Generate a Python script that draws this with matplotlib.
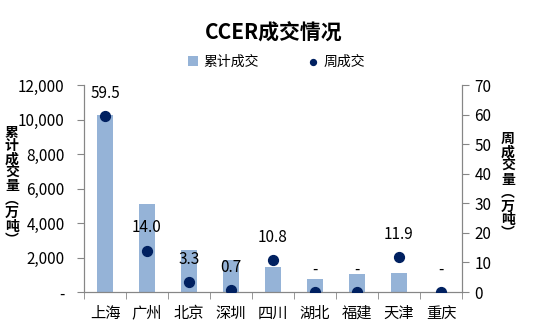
import matplotlib.pyplot as plt
import numpy as np

plt.rcParams['font.family'] = ['Noto Sans CJK SC', 'DejaVu Sans']

# 数据
cities = ['上海', '广州', '北京', '深圳', '四川', '湖北', '福建', '天津', '重庆']
total = [10280, 5100, 2430, 1850, 1450, 750, 1050, 1120, 0]
weekly = [59.5, 14.0, 3.3, 0.7, 10.8, 0, 0, 11.9, 0]
left_ticks = [0, 2000, 4000, 6000, 8000, 10000, 12000]
right_ticks = [0, 10, 20, 30, 40, 50, 60, 70]

BAR_COLOR = '#95B3D7'
DOT_COLOR = '#002060'
AXIS_COLOR = '#868686'

fig = plt.figure(figsize=(5.37, 3.27), dpi=100)
ax = fig.add_axes([0.1564, 0.107, 0.7039, 0.633])
ax2 = ax.twinx()

x = np.arange(len(cities))
bars = ax.bar(x, total, width=0.4, color=BAR_COLOR, label='累计成交', zorder=2)
dots = ax2.scatter(x, weekly, s=50, color=DOT_COLOR, label='周成交', zorder=3)

for xi, v in zip(x, weekly):
    txt = '-' if v == 0 else f'{v:.1f}'
    ax2.text(xi, v + 4.8, txt, ha='center', va='bottom', fontsize=11)

ax.set_xlim(-0.5, len(cities) - 0.5)
ax.set_ylim(0, 12000)
ax2.set_ylim(0, 70)

ax.set_yticks(left_ticks)
ax.set_yticklabels(['-' if t == 0 else f'{t:,}' for t in left_ticks], fontsize=11)
ax2.set_yticks(right_ticks)
ax2.set_yticklabels([str(t) for t in right_ticks], fontsize=11)

ax.set_xticks(x)
ax.set_xticklabels(cities, fontsize=11)
ax.tick_params(axis='x', length=0, pad=9)
ax.set_xticks(np.arange(len(cities) + 1) - 0.5, minor=True)
ax.tick_params(axis='x', which='minor', length=5, color=AXIS_COLOR)
ax.tick_params(axis='y', length=5, color=AXIS_COLOR, pad=9)
ax2.tick_params(axis='y', length=5, color=AXIS_COLOR, pad=4)

for a in (ax, ax2):
    a.spines['top'].set_visible(False)
    for s in ('left', 'right', 'bottom'):
        a.spines[s].set_color(AXIS_COLOR)

fig.text(0.51, 0.9, 'CCER成交情况', ha='center', va='center', fontsize=15, fontweight='bold')

fig.legend(handles=[bars, dots], labels=['累计成交', '周成交'], loc='center',
           bbox_to_anchor=(0.515, 0.81), ncol=2, frameon=False, fontsize=10,
           columnspacing=3.5, handlelength=0.7, handletextpad=0.4,
           markerscale=0.6)

fig.text(0.022, 0.43, '\n'.join('累计成交量︵万吨︶'), ha='center', va='center',
         fontsize=10, fontweight='bold', linespacing=0.95)
fig.text(0.946, 0.43, '\n'.join('周成交量︵万吨︶'), ha='center', va='center',
         fontsize=10, fontweight='bold', linespacing=0.95)

fig.savefig('out.png', dpi=100)
